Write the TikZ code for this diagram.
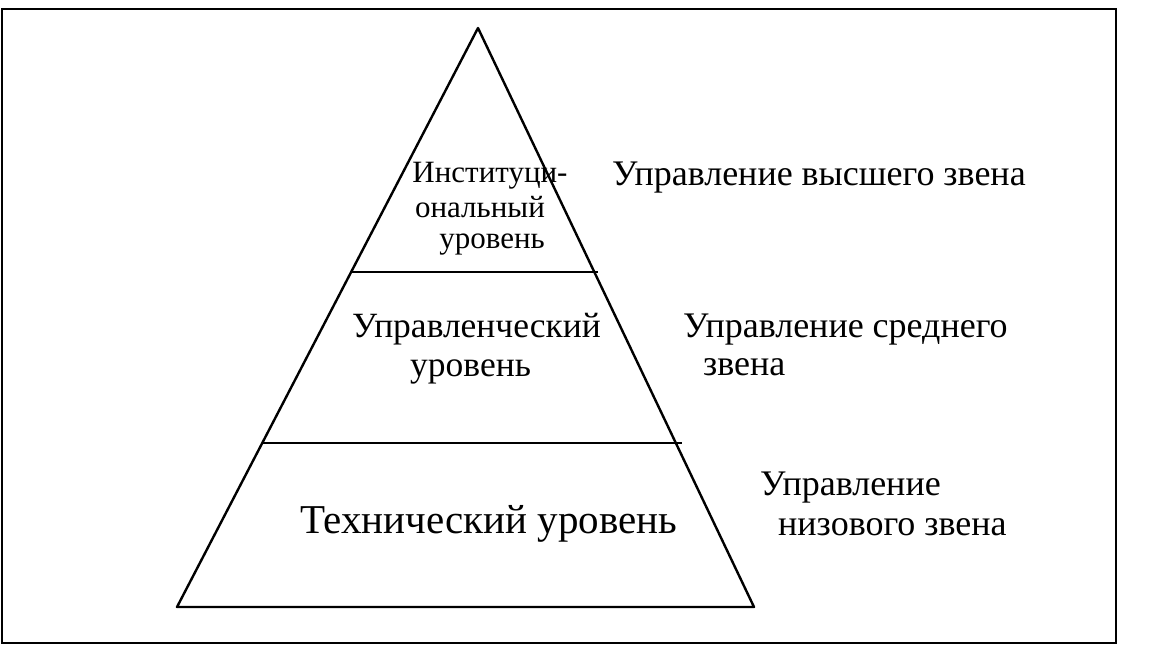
\documentclass[tikz,border=0pt]{standalone}
\usepackage{fontspec}
\setmainfont{Liberation Serif}
\usetikzlibrary{calc}
\begin{document}
\begin{tikzpicture}[x=1pt,y=-1pt,
  edge/.style={line width=2.4pt,line join=round},
  frame/.style={line width=2.6pt},
  lbl/.style={inner sep=0pt,anchor=base west,font=\fontsize{36}{40}\selectfont},
  lvl/.style={inner sep=0pt,anchor=base west,font=\fontsize{35.5}{40}\selectfont},
  inst/.style={inner sep=0pt,anchor=base,font=\fontsize{31}{34}\selectfont},
  tech/.style={inner sep=0pt,anchor=base west,font=\fontsize{41}{46}\selectfont}]
\useasboundingbox (0,0) rectangle (1175,669);
% frame
\draw[frame] (2,9) rectangle (1116,643);
% pyramid
\coordinate (apex) at (478,28);
\coordinate (bl) at (177,607);
\coordinate (br) at (754,607);
\draw[edge] (bl) -- (apex) -- (br) -- cycle;
\coordinate (l1) at ($(apex)!{(272-28)/(607-28)}!(bl)$);
\coordinate (r1) at ($(apex)!{(272-28)/(607-28)}!(br)$);
\coordinate (l2) at ($(apex)!{(443-28)/(607-28)}!(bl)$);
\coordinate (r2) at ($(apex)!{(443-28)/(607-28)}!(br)$);
\draw[edge] (l1) -- ($(r1)+(4,0)$);
\draw[edge] (l2) -- ($(r2)+(6,0)$);
% level texts
\node[inst] (i1) at (490,182) {Институци-};
\node[inst] (i2) at (480,217) {ональный};
\node[inst] (i3) at (492,248) {уровень};
\node[lvl] (m1) at (352,337) {Управленческий};
\node[lvl] (m2) at (410,376) {уровень};
\node[tech] (t1) at (300,533) {Технический уровень};
% management texts
\node[lbl] (u1) at (612,185) {Управление высшего звена};
\node[lbl] (u2) at (683,337) {Управление среднего};
\node[lbl] (u3) at (703,375) {звена};
\node[lbl] (u4) at (760,495) {Управление};
\node[lbl] (u5) at (778,535) {низового звена};
\end{tikzpicture}
\end{document}
